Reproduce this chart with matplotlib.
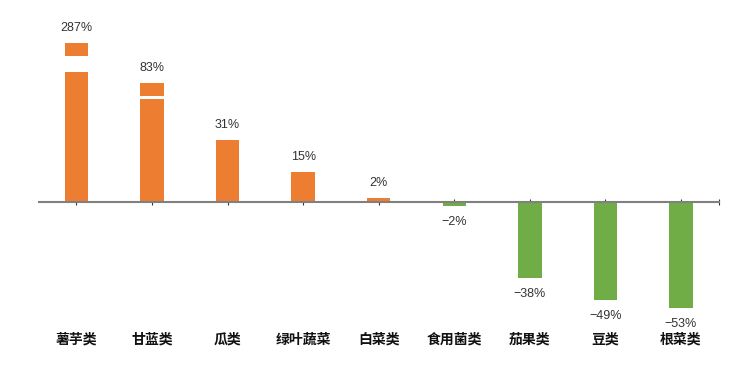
import numpy as np
import matplotlib
matplotlib.use("Agg")
import matplotlib.pyplot as plt

# 数据
categories = ["薯芋类", "甘蓝类", "瓜类", "绿叶蔬菜", "白菜类", "食用菌类", "茄果类", "豆类", "根菜类"]
values = [287, 83, 31, 15, 2, -2, -38, -49, -53]
labels = ["287%", "83%", "31%", "15%", "2%", "-2%", "-38%", "-49%", "-53%"]

# 断轴：把大数值压缩显示 (knots only control drawing)
knots_in = [-100, 40, 83, 287, 400]
knots_out = [-100, 40, 59.4, 79.7, 90]
# 断口位置（占显示高度的比例）
breaks = {0: (0.816, 0.918), 1: (0.865, 0.896)}

orange = "#ED7D31"
green = "#70AD47"

fig = plt.figure(figsize=(7.49, 3.75), dpi=100)
ax = fig.add_axes([38.7 / 749, 55 / 375, 680 / 749, 310 / 375])

x = np.arange(len(categories))
shown = np.interp(values, knots_in, knots_out)
colors = [orange if v >= 0 else green for v in values]
w = 0.31
ax.bar(x, shown, width=w, color=colors, zorder=2)

# 白色断口
for i, (f0, f1) in breaks.items():
    ax.bar(x[i], shown[i] * (f1 - f0), bottom=shown[i] * f0, width=w + 0.04,
           color="white", zorder=3)

lab_font = ["Liberation Sans Narrow", "Liberation Sans", "DejaVu Sans"]
for xi, s, t in zip(x, shown, labels):
    if s >= 0:
        ax.text(xi, s + 7.5, t, ha="center", va="center", fontsize=9,
                color="#333333", family=lab_font)
    else:
        ax.text(xi, s - 8, t.replace("-", "−"), ha="center", va="center", fontsize=9,
                color="#333333", family=lab_font)

for xi, c in zip(x, categories):
    ax.text(xi, -69, c, ha="center", va="center", fontsize=10, fontweight="bold",
            color="#111111", family=["Noto Sans CJK SC", "DejaVu Sans"], clip_on=False)

ax.set_xlim(-0.5, len(categories) - 0.5)
ax.set_ylim(-59, 96)

for s in ["top", "right", "left"]:
    ax.spines[s].set_visible(False)
ax.spines["bottom"].set_position(("data", 0))
ax.spines["bottom"].set_color("#808080")
ax.spines["bottom"].set_linewidth(1.5)
ax.spines["bottom"].set_zorder(4)
ax.set_yticks([])
ax.set_xticks(list(x) + [len(categories) - 0.5])
ax.set_xticklabels([])
ax.tick_params(axis="x", direction="inout", length=5, width=0.8, color="#333333")

fig.savefig("out.png", dpi=100)
